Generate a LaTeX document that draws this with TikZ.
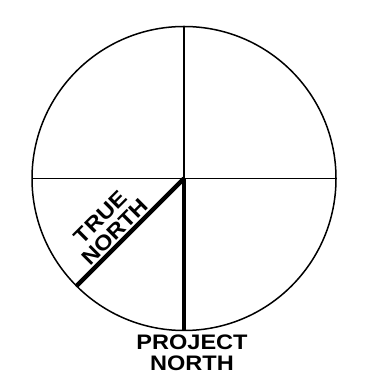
\documentclass[tikz,border=0pt]{standalone}
\usepackage{fontspec}
\newfontfamily\labelfont{Liberation Sans}[FakeStretch=1.12]
\usetikzlibrary{positioning,calc}

\begin{document}
\begin{tikzpicture}[x=1pt,y=1pt,
      rim/.style={line width=1.5pt},
      needle/.style={line width=4.5pt,line cap=butt},
      lbl/.style={font=\labelfont\bfseries\fontsize{21}{21}\selectfont,
                  align=center,inner sep=0pt}]
    \useasboundingbox (0,0) rectangle (379,371);
    \coordinate (c) at (184,192.5);
    \path (c) ++(0:152) coordinate (e) (c) ++(90:152) coordinate (n)
          (c) ++(180:152) coordinate (w) (c) ++(270:152) coordinate (s)
          (c) ++(225:152) coordinate (sw);
    \draw[rim] (c) circle (152);
    \draw[rim] (w)--(e); \draw[rim] (n)--(s);
    \draw[needle] (c)--(s); \draw[needle] (c)--(sw);
    \node[lbl,rotate=45,anchor=south,inner sep=3pt] (true) at ($(c)!0.57!(sw)$) {TRUE\\NORTH};
    \node[lbl,below=4.5pt of s,xshift=8pt] (proj) {PROJECT\\NORTH};
\end{tikzpicture}
\end{document}
